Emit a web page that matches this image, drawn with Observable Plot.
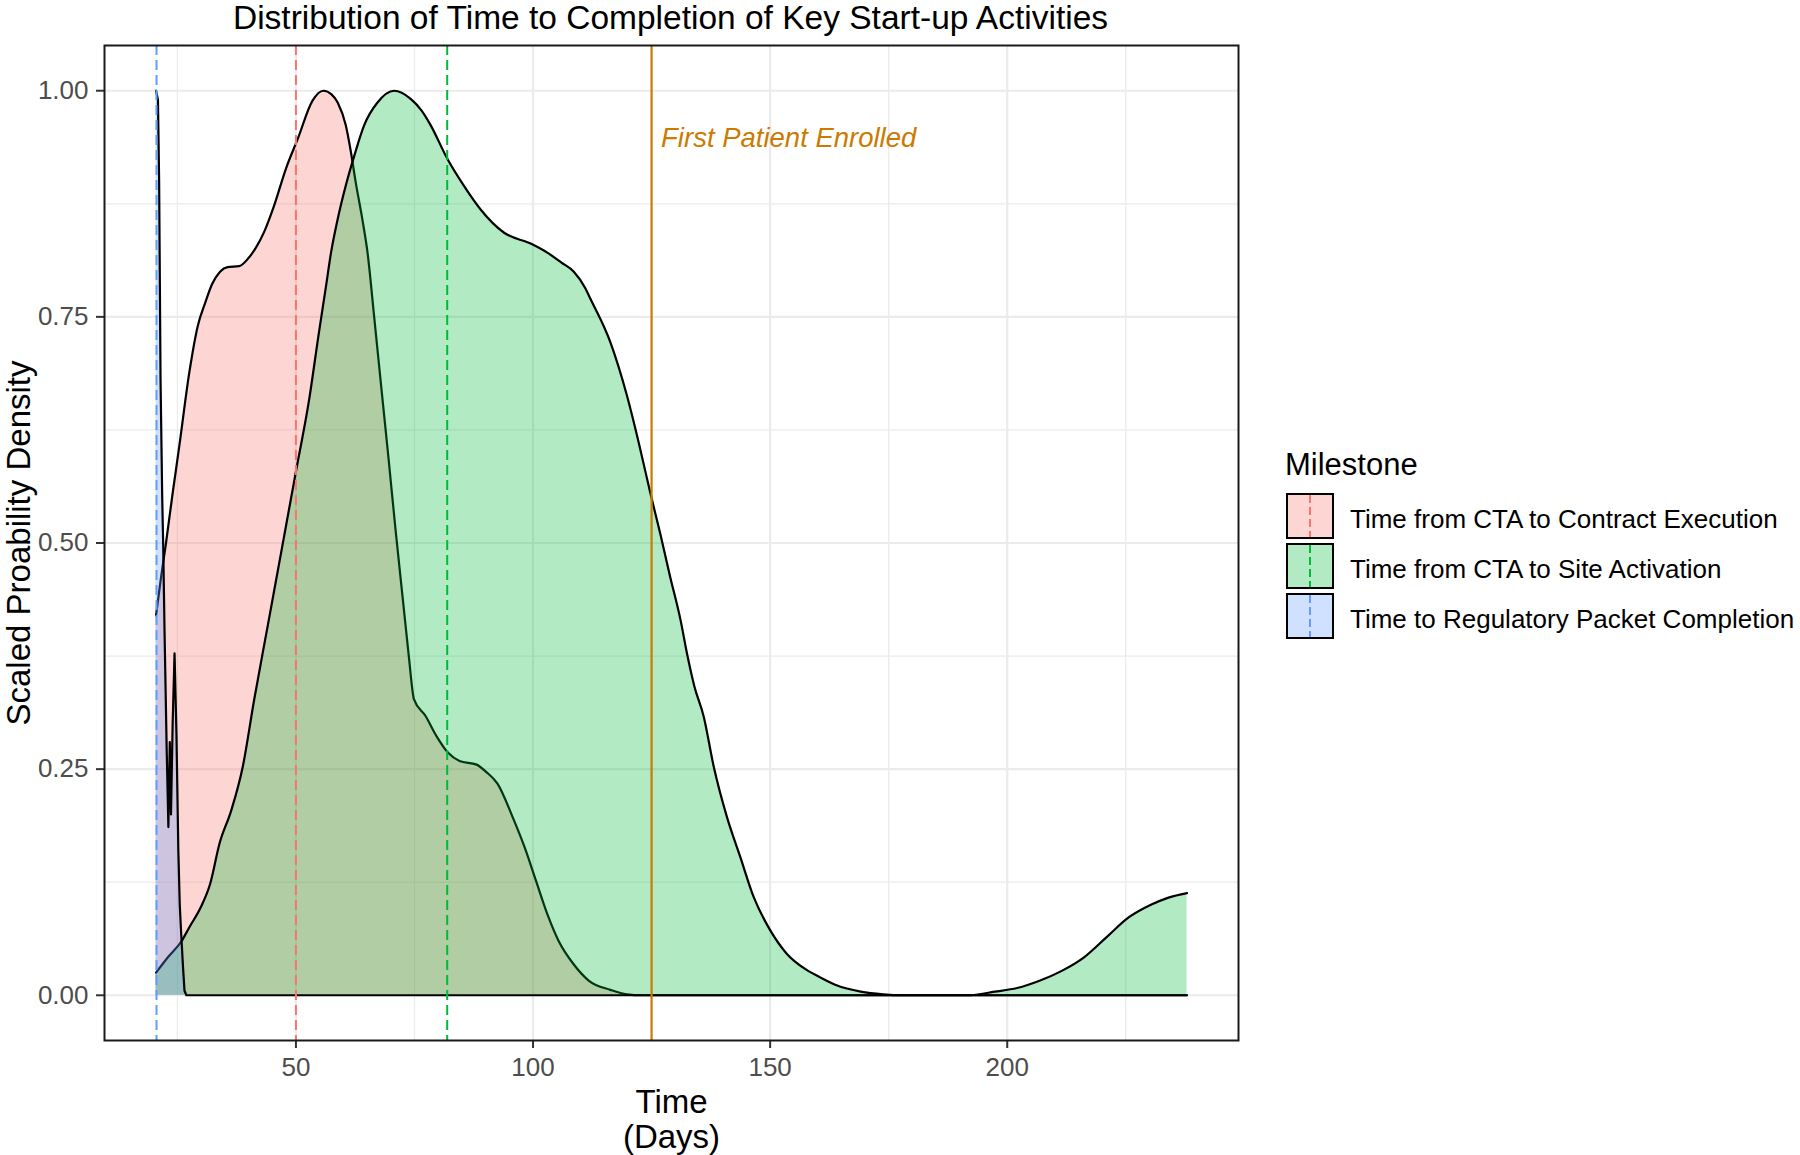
<!DOCTYPE html>
<html>
<head>
<meta charset="utf-8">
<script src="https://cdn.jsdelivr.net/npm/d3@7"></script>
<script src="https://cdn.jsdelivr.net/npm/@observablehq/plot@0.6"></script>
<style>
  body { margin: 0; background: #fff; font-family: "Liberation Sans", Arial, sans-serif; }
  #wrap { position: relative; width: 1800px; height: 1155px; overflow: hidden; background: #fff; }
  #title { position: absolute; left: 103px; width: 1135px; top: 0; height: 38px; line-height: 36px;
           text-align: center; font-size: 33.5px; color: #000; white-space: nowrap; }
  #chart { position: absolute; left: 0; top: 38px; width: 1800px; }
  #legend { position: absolute; left: 1270px; top: 440px; }
</style>
</head>
<body>
<div id="wrap">
  <div id="title">Distribution of Time to Completion of Key Start-up Activities</div>
  <div id="chart"></div>
  <div id="legend"></div>
</div>
<script>
// ---------------- data ----------------
const milestones = [
  "Time from CTA to Contract Execution",
  "Time from CTA to Site Activation",
  "Time to Regulatory Packet Completion"
];
const milestoneColors = ["#F8766D", "#00BA38", "#619CFF"];
const milestoneKeyFills = ["#FDD6D3", "#B2EAC3", "#D0E1FF"];

const contractDays = [20.5, 21.5, 22.6, 24, 25.4, 27.5, 29.3, 30.9, 32.3, 34, 35.6, 38, 40, 41.5, 43.3, 45.4, 47.9, 50.4, 53.5, 55.8, 57.5, 58.8, 60.5, 61.6, 62.6, 64, 65.1, 66.5, 68, 69.5, 71, 72.5, 73.8, 74.9, 77.3, 79.7, 82.1, 84.5, 88.1, 90.1, 92.5, 95.7, 98.2, 100.6, 103, 105.4, 108.6, 111.8, 116.3, 119.8, 123, 237.9];
const contractDensity = [0.42, 0.46, 0.50, 0.555, 0.607, 0.688, 0.74, 0.766, 0.786, 0.80, 0.805, 0.806, 0.815, 0.826, 0.844, 0.873, 0.914, 0.947, 0.989, 1.0, 0.996, 0.987, 0.962, 0.932, 0.899, 0.858, 0.821, 0.75, 0.672, 0.595, 0.515, 0.44, 0.375, 0.327, 0.309, 0.286, 0.268, 0.259, 0.255, 0.247, 0.234, 0.197, 0.164, 0.127, 0.09, 0.06, 0.034, 0.016, 0.006, 0.001, 0, 0];

const activationDays = [20.5, 23, 25.9, 27.5, 29.9, 31.9, 33.9, 36.4, 38.8, 41.2, 44, 47, 50, 52.8, 54.8, 56.4, 57.4, 58.8, 60.5, 62.3, 64.4, 67.2, 70.7, 74.2, 76.5, 78.4, 81.9, 85.4, 88.9, 93.9, 99.5, 103, 106, 108.6, 111, 112.1, 116.3, 119.8, 122.6, 124.7, 126.8, 128.9, 131.1, 132.5, 134, 136, 138.1, 140.9, 143.7, 146.5, 150, 153.5, 157.7, 160.5, 164, 169.1, 173.8, 178, 191.7, 197.4, 202.1, 206.8, 211.5, 216.2, 220.9, 225.6, 230.3, 234, 237.9];
const activationDensity = [0.025, 0.042, 0.06, 0.075, 0.097, 0.123, 0.168, 0.205, 0.253, 0.327, 0.407, 0.493, 0.579, 0.659, 0.731, 0.786, 0.821, 0.858, 0.895, 0.928, 0.962, 0.987, 1.0, 0.991, 0.978, 0.962, 0.925, 0.895, 0.869, 0.843, 0.831, 0.821, 0.81, 0.80, 0.782, 0.770, 0.722, 0.663, 0.604, 0.556, 0.511, 0.463, 0.415, 0.377, 0.342, 0.308, 0.253, 0.197, 0.153, 0.109, 0.072, 0.046, 0.028, 0.020, 0.011, 0.004, 0.001, 0, 0, 0.004, 0.008, 0.016, 0.027, 0.042, 0.064, 0.086, 0.1, 0.108, 0.113];

const regulatoryDays = [20.5, 20.9, 21.15, 21.45, 21.8, 22.0, 22.3, 22.75, 23.1, 23.4, 23.65, 24.0, 24.4, 24.8, 25.2, 25.5, 25.8, 26.2, 26.5, 26.9, 237.9];
const regulatoryDensity = [1.0, 0.99, 0.90, 0.68, 0.55, 0.50, 0.40, 0.27, 0.186, 0.28, 0.20, 0.30, 0.378, 0.29, 0.16, 0.10, 0.068, 0.03, 0.005, 0, 0];

const meanDays = [50.0, 81.9, 20.6];
const firstPatientDay = 125;
const firstPatientLabel = "First Patient Enrolled";
const firstPatientLabelPos = [127, 0.947];

const xTicks = [50, 100, 150, 200];
const xMinor = [25, 75, 125, 175, 225];
const yTicks = [0, 0.25, 0.5, 0.75, 1.0];
const yMinor = [0.125, 0.375, 0.625, 0.875];

const orange = "#CC7A00";

// ---------------- build ----------------
const seriesDays = [contractDays, activationDays, regulatoryDays];
const seriesDensity = [contractDensity, activationDensity, regulatoryDensity];
const seriesCurve = ["monotone-x", "monotone-x", "linear"];
const series = milestones.map((name, i) => ({
  name, color: milestoneColors[i], curve: seriesCurve[i],
  rows: seriesDays[i].map((d, j) => ({day: d, value: seriesDensity[i][j]}))
}));

const densityMarks = series.flatMap(s => [
  Plot.areaY(s.rows, {x: "day", y: "value", fill: s.color, fillOpacity: 0.3, curve: s.curve}),
  Plot.lineY(s.rows, {x: "day", y: "value", stroke: "#000", strokeWidth: 2.2, curve: s.curve})
]);

const meanMarks = meanDays.map((d, i) =>
  Plot.ruleX([d], {stroke: milestoneColors[i], strokeWidth: 2, strokeDasharray: "10,5"}));

const chart = Plot.plot({
  width: 1800, height: 1117,
  marginLeft: 104, marginRight: 562, marginTop: 7, marginBottom: 115,
  x: {domain: [9.63, 248.77]},
  y: {domain: [-0.05, 1.05]},
  style: {fontFamily: "'Liberation Sans', Arial, sans-serif", background: "#fff", color: "#000"},
  marks: [
    Plot.gridX(xMinor, {stroke: "#EBEBEB", strokeOpacity: 1, strokeWidth: 1.3}),
    Plot.gridY(yMinor, {stroke: "#EBEBEB", strokeOpacity: 1, strokeWidth: 1.3}),
    Plot.gridX(xTicks, {stroke: "#EBEBEB", strokeOpacity: 1, strokeWidth: 2.2}),
    Plot.gridY(yTicks, {stroke: "#EBEBEB", strokeOpacity: 1, strokeWidth: 2.2}),
    ...densityMarks,
    ...meanMarks,
    Plot.ruleX([firstPatientDay], {stroke: orange, strokeWidth: 2.2}),
    Plot.text([firstPatientLabel], {x: firstPatientLabelPos[0], y: firstPatientLabelPos[1], text: d => d,
      textAnchor: "start", fontStyle: "italic", fontSize: 27.5, fill: orange}),
    Plot.axisX(xTicks, {tickSize: 8, tickPadding: 9, fontSize: 26, label: null,
      stroke: "#333", fill: "#4D4D4D", strokeWidth: 2}),
    Plot.axisY(yTicks, {tickSize: 8, tickPadding: 8, fontSize: 26, label: null,
      tickFormat: d3.format(".2f"), stroke: "#333", fill: "#4D4D4D", strokeWidth: 2}),
    Plot.frame({stroke: "#1a1a1a", strokeWidth: 2}),
    Plot.text(["Time\n(Days)"], {frameAnchor: "bottom", textAnchor: "middle", text: d => d, dy: 107,
      fontSize: 33, lineHeight: 1.04, fill: "#000"}),
    Plot.text(["Scaled Proability Density"], {frameAnchor: "left", textAnchor: "middle", text: d => d,
      rotate: -90, dx: -85, fontSize: 33, fill: "#000"})
  ]
});
document.getElementById("chart").appendChild(chart);

// ---------------- legend ----------------
const lg = d3.select("#legend").append("svg").attr("width", 530).attr("height", 220)
  .style("font-family", "'Liberation Sans', Arial, sans-serif");
lg.append("text").attr("x", 15).attr("y", 35).attr("font-size", 31).attr("fill", "#000").text("Milestone");
milestones.forEach((name, i) => {
  const y0 = 54 + i * 50;
  lg.append("rect").attr("x", 17).attr("y", y0).attr("width", 46).attr("height", 44)
    .attr("fill", milestoneKeyFills[i]).attr("stroke", "#000").attr("stroke-width", 2);
  lg.append("line").attr("x1", 40).attr("x2", 40).attr("y1", y0 + 1).attr("y2", y0 + 43)
    .attr("stroke", milestoneColors[i]).attr("stroke-width", 2).attr("stroke-dasharray", "8,4");
  lg.append("text").attr("x", 80).attr("y", y0 + 25).attr("dy", "0.35em").attr("font-size", 26)
    .attr("fill", "#000").text(name);
});
</script>
</body>
</html>
